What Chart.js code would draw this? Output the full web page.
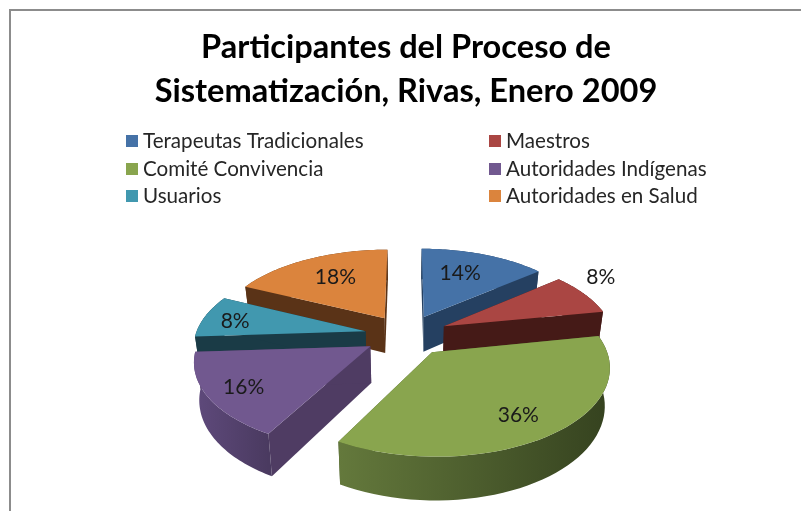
<!DOCTYPE html>
<html>
<head>
<meta charset="utf-8">
<title>Participantes del Proceso de Sistematización</title>
<script src="https://cdn.jsdelivr.net/npm/chart.js@4/dist/chart.umd.min.js"></script>
<style>
  html, body { margin: 0; padding: 0; background: #fff; overflow: hidden; }
  #box { position: absolute; left: 9px; top: 9px; width: 792px; height: 502px; border-left: 2px solid #8c8c8c; border-top: 2px solid #8c8c8c; }
  #chart { display: block; }
</style>
</head>
<body>
<div id="box"><canvas id="chart" width="790" height="500"></canvas></div>
<script>
const categories = ["Terapeutas Tradicionales", "Maestros", "Comité Convivencia", "Autoridades Indígenas", "Usuarios", "Autoridades en Salud"];
const percents = [14, 8, 36, 16, 8, 18];
const topColors = ["#4572a7", "#aa4643", "#89a54e", "#71588f", "#4198af", "#db843d"];
const wallColors = ["#254061", "#451a17", "#4a5c2c", "#4f3c63", "#1a3b46", "#5a3317"];
const outerLeftColors = ["#254061", "#451a17", "#64793c", "#5f4a7c", "#1a3b46", "#5a3317"];
const outerRightColors = ["#254061", "#451a17", "#35421f", "#4a3a60", "#1a3b46", "#5a3317"];

// where each % label sits: fraction of the radius, and a turn away from the slice middle
const labelRadius = [0.66, 1.24, 0.77, 0.8, 0.8, 0.66];
const labelTurn = [-3, -7, 2, -1, -2, 2];

// fake 3D view, all in page pixels minus the box offset
const BOX = 11;
const centerX = 406.5 - BOX;
const centerY = 335 - BOX;
const pieRadius = 170;
const tilt = 0.49;
const viewDist = 1144;
const thickness = 36;

function project(u, v, down) {
  const s = 1 / (1 - v / viewDist);
  const shrink = down ? 0.975 : 1;
  return {
    x: centerX + u * s * shrink,
    y: centerY + v * tilt * s + (down ? thickness * s : 0)
  };
}

function ground(el, angle, r) {
  const mid = (el.startAngle + el.endAngle) / 2;
  const off = el.options.offset;
  return {
    u: Math.cos(mid) * off + Math.cos(angle) * r,
    v: Math.sin(mid) * off + Math.sin(angle) * r
  };
}

function poly(ctx, pts, fill) {
  ctx.beginPath();
  pts.forEach((p, i) => i ? ctx.lineTo(p.x, p.y) : ctx.moveTo(p.x, p.y));
  ctx.closePath();
  ctx.fillStyle = fill;
  ctx.fill();
}

const pie3d = {
  id: "pie3d",
  beforeDatasetDraw(chart, args) {
    const ctx = chart.ctx;
    const arcs = args.meta.data;
    const order = arcs.map((el, i) => i).sort((a, b) => {
      const ma = (arcs[a].startAngle + arcs[a].endAngle) / 2;
      const mb = (arcs[b].startAngle + arcs[b].endAngle) / 2;
      return Math.sin(ma) - Math.sin(mb);
    });
    order.forEach(i => {
      const el = arcs[i];
      const apex = ground(el, el.startAngle, 0);
      const rim = [];
      const steps = 48;
      for (let k = 0; k <= steps; k++) {
        rim.push(ground(el, el.startAngle + (el.endAngle - el.startAngle) * k / steps, pieRadius));
      }
      const up = rim.map(p => project(p.u, p.v, false));
      const low = rim.map(p => project(p.u, p.v, true));
      const apexUp = project(apex.u, apex.v, false);
      const apexLow = project(apex.u, apex.v, true);

      poly(ctx, [apexUp, up[0], low[0], apexLow], wallColors[i]);
      poly(ctx, [apexUp, up[steps], low[steps], apexLow], wallColors[i]);

      const xs = up.map(p => p.x);
      const grad = ctx.createLinearGradient(Math.min(...xs), 0, Math.max(...xs), 0);
      grad.addColorStop(0, outerLeftColors[i]);
      grad.addColorStop(1, outerRightColors[i]);
      poly(ctx, up.concat(low.slice().reverse()), grad);

      poly(ctx, [apexUp].concat(up), topColors[i]);
    });

    // % labels on top of everything
    ctx.font = "21px Lato";
    ctx.fillStyle = "#1a1a1a";
    ctx.textAlign = "center";
    ctx.textBaseline = "middle";
    arcs.forEach((el, i) => {
      const mid = (el.startAngle + el.endAngle) / 2 + labelTurn[i] * Math.PI / 180;
      const p = ground(el, mid, pieRadius * labelRadius[i]);
      const at = project(p.u, p.v, false);
      ctx.fillText(percents[i] + "%", at.x, at.y);
    });
    return false;
  }
};

// two fixed columns, the built-in legend can not line its columns up like this
const legendColumns = [126 - BOX, 489 - BOX];
const legendRows = [141 - BOX, 169 - BOX, 196 - BOX];
const gridLegend = {
  id: "gridLegend",
  afterDraw(chart) {
    const ctx = chart.ctx;
    ctx.font = "20.6px Lato";
    ctx.textAlign = "left";
    ctx.textBaseline = "middle";
    chart.data.labels.forEach((label, i) => {
      const x = legendColumns[i % 2];
      const y = legendRows[Math.floor(i / 2)];
      ctx.fillStyle = topColors[i];
      ctx.fillRect(x, y - 6, 12, 12);
      ctx.fillStyle = "#262626";
      ctx.fillText(label, x + 17, y);
    });
  }
};

new Chart(document.getElementById("chart"), {
  type: "pie",
  data: {
    labels: categories,
    datasets: [
      {
        data: percents,
        backgroundColor: topColors,
        borderWidth: 0,
        offset: 42,
      },
    ],
  },
  options: {
    responsive: false,
    animation: false,
    plugins: {
      legend: { display: false },
      tooltip: { enabled: false },
      title: {
        display: true,
        text: ["Participantes del Proceso de", "Sistematización, Rivas, Enero 2009"],
        color: "#000",
        font: { family: "Lato", size: 32.6, weight: "bold", lineHeight: 1.35 },
        padding: { top: 14, bottom: 10 },
      },
    },
  },
  plugins: [pie3d, gridLegend],
});
</script>
</body>
</html>
